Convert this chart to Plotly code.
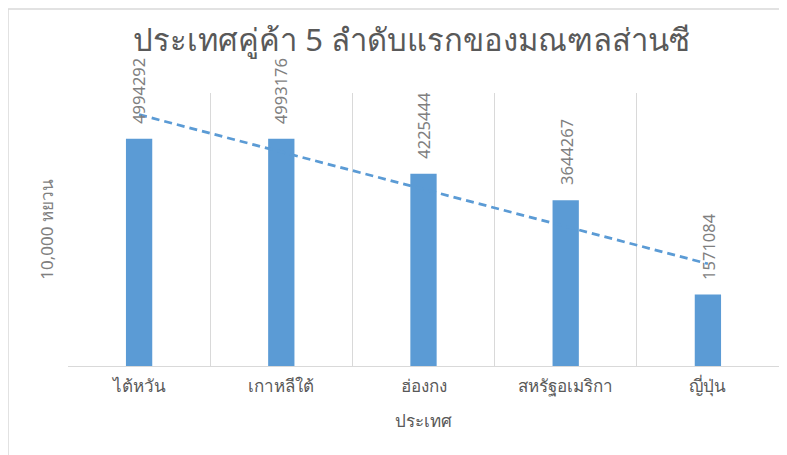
import plotly.graph_objects as go
import numpy as np

categories = ["ไต้หวัน", "เกาหลีใต้", "ฮ่องกง", "สหรัฐอเมริกา", "ญี่ปุ่น"]
values = [4994292, 4993176, 4225444, 3644267, 1571084]
title_text = "ประเทศคู่ค้า 5 ลำดับแรกของมณฑลส่านซี"
x_title = "ประเทศ"
y_title = "10,000 หยวน"

# linear trendline (as Excel's linear trend)
xi = np.arange(1, len(values) + 1)
slope, intercept = np.polyfit(xi, values, 1)
trend = list(slope * xi + intercept)

grey = "#595959"
font_family = "Noto Sans, DejaVu Sans, sans-serif"

fig = go.Figure()
fig.add_trace(go.Bar(
    x=categories, y=values,
    marker=dict(color="#5B9BD5", line=dict(width=0)),
    width=0.185,
    showlegend=False,
))
fig.add_trace(go.Scatter(
    x=categories, y=trend, mode="lines",
    line=dict(color="#5B9BD5", width=2.75, dash="8px,5px"),
    showlegend=False,
))

annotations = [
    dict(x=c, y=v, xref="x", yref="y", text=str(v), showarrow=False,
         textangle=-90, yanchor="bottom", xanchor="center", yshift=13,
         font=dict(size=16.5, color="#7F7F7F", family=font_family))
    for c, v in zip(categories, values)
]

fig.update_layout(
    width=779, height=447,
    margin=dict(l=60, r=8, t=85, b=89),
    paper_bgcolor="white", plot_bgcolor="white",
    font=dict(family=font_family, color=grey),
    title=dict(text=title_text, x=0.518, xanchor="center", y=0.928, yanchor="middle",
               font=dict(size=31, color=grey, family=font_family)),
    xaxis=dict(
        showgrid=True, gridcolor="#D9D9D9", tickson="boundaries",
        showline=True, linecolor="#D9D9D9", linewidth=1,
        ticks="", tickfont=dict(size=17, color=grey), ticklabelstandoff=5,
        title=dict(text=x_title, font=dict(size=17, color=grey), standoff=18),
    ),
    yaxis=dict(
        range=[0, 6000000], showgrid=False, zeroline=False, showticklabels=False,
        showline=False, ticks="",
        title=dict(text=y_title, font=dict(size=17, color="#7F7F7F"), standoff=9),
    ),
    annotations=annotations,
    shapes=[dict(type="rect", xref="paper", yref="paper",
                 x0=-60 / 711, x1=1.3, y0=-0.6, y1=(358 - 1) / 273,
                 line=dict(color="#D9D9D9", width=1.5), fillcolor="rgba(0,0,0,0)", layer="below")],
)
fig.write_html("out.html")
